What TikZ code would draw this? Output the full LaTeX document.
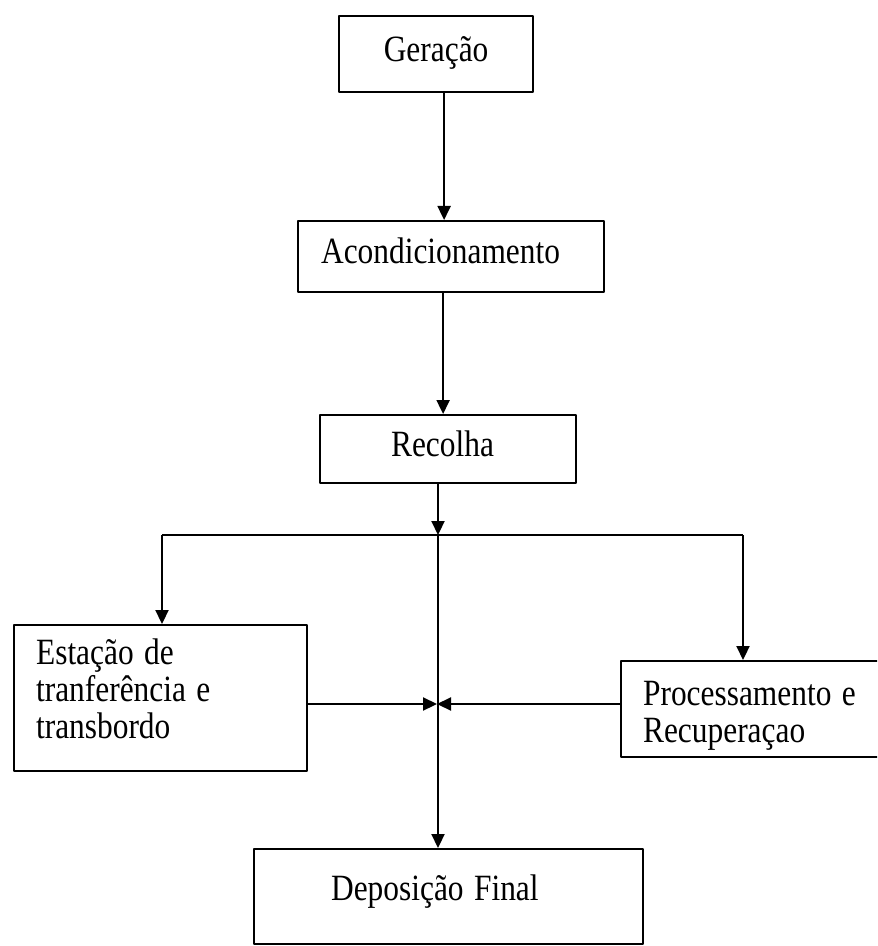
\documentclass[tikz,border=0pt]{standalone}
\usepackage{fontspec}
\setmainfont{Liberation Serif}
\usetikzlibrary{arrows.meta}
\newcommand\tallt[1]{\scalebox{1}[1.18]{#1}}
\begin{document}
\begin{tikzpicture}[x=0.5pt, y=-0.5pt, line width=1.1pt, line join=round, font=\fontsize{15.7}{18.5}\selectfont,
	box/.style={draw, anchor=north west, inner ysep=0pt, align=left},
	arr/.style={-{Triangle[length=7pt, width=6.5pt]}}]
	\useasboundingbox (0,0) rectangle (877,946);
	\clip (0,0) rectangle (877,946);
	% caixas
	\node[box, align=center, inner xsep=5pt, text width=87pt, text height=22.5pt, text depth=15.5pt] (ger) at (338,15) {\tallt{Geração}};
	\node[box, inner xsep=11.5pt, text width=130pt, text height=21pt, text depth=14.5pt] (acd) at (297,220) {\tallt{Acondicionamento}};
	\node[box, inner xsep=35.5pt, text width=57pt, text height=20.5pt, text depth=13.5pt] (rec) at (319,414) {\tallt{Recolha}};
	\node[box, inner xsep=11pt, text width=124.5pt, text height=19.5pt, text depth=53.5pt] (est) at (13,624) {\tallt{Estação de}\\\tallt{tranferência e}\\\tallt{transbordo}};
	\node[box, inner xsep=11pt, text width=118pt, text height=22pt, text depth=26pt] (pro) at (620,660) {\tallt{Processamento e}\\\tallt{Recuperaçao}};
	\node[box, inner xsep=38.5pt, text width=117.5pt, text height=25.5pt, text depth=22pt] (dep) at (253,848) {\tallt{Deposição Final}};
	% pontos de ligação
	\coordinate (split) at (438,535);
	\coordinate (forkl) at (162,535);
	\coordinate (forkr) at (743,535);
	\coordinate (meet) at (437,704);
	% setas
	\draw[arr] ([xshift=4pt]ger.south) -- ([xshift=4pt]ger.south |- acd.north);
	\draw[arr] ([xshift=-4pt]acd.south) -- ([xshift=-4pt]acd.south |- rec.north);
	\draw[arr] (split |- rec.south) -- (split);
	\draw (forkl) -- (forkr);
	\draw[arr] (forkl) -- (forkl |- est.north);
	\draw[arr] (forkr) -- (forkr |- pro.north);
	\draw[arr] (split) -- (split |- dep.north);
	\draw[arr] (est.east |- meet) -- (meet);
	\draw[arr] (pro.west |- meet) -- (meet);
\end{tikzpicture}
\end{document}
